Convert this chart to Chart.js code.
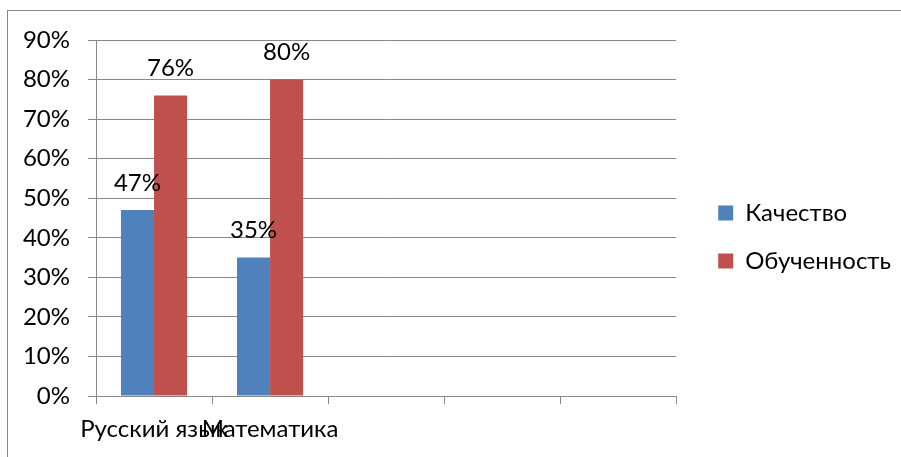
<!DOCTYPE html>
<html>
<head>
<meta charset="utf-8">
<script src="https://cdn.jsdelivr.net/npm/chart.js@4"></script>
<style>
    html, body { margin: 0; padding: 0; background: #fff; }
    #wrap { width: 901px; height: 457px; position: relative; }
</style>
</head>
<body>
<div id="wrap"><canvas id="chart" width="901" height="457"></canvas></div>
<script>
// Chart data
const categories = ['Русский язык', 'Математика', '', '', ''];
const quality = [47, 35, null, null, null];
const learning = [76, 80, null, null, null];
const yTicks = [0, 10, 20, 30, 40, 50, 60, 70, 80, 90];

const FONT = 'Lato';
const FONT_SIZE = 24;
const GRID = '#888888';

// value labels above bars
const valueLabels = {
    id: 'valueLabels',
    afterDatasetsDraw(chart) {
        const ctx = chart.ctx;
        ctx.save();
        ctx.font = FONT_SIZE + 'px ' + FONT;
        ctx.fillStyle = '#000';
        ctx.textAlign = 'center';
        ctx.textBaseline = 'middle';
        chart.data.datasets.forEach((ds, i) => {
            chart.getDatasetMeta(i).data.forEach((bar, j) => {
                const v = ds.data[j];
                if (v == null) return;
                ctx.fillText(v + '%', bar.x, bar.y - 27);
            });
        });
        ctx.restore();
    }
};

// outer frame of the chart object (only top/left edges are visible)
const frame = {
    id: 'frame',
    beforeDraw(chart) {
        const ctx = chart.ctx;
        ctx.save();
        ctx.fillStyle = '#fff';
        ctx.fillRect(0, 0, chart.width, chart.height);
        ctx.strokeStyle = GRID;
        ctx.lineWidth = 1;
        ctx.strokeRect(7.5, 10.5, 1200, 1200);
        ctx.restore();
    }
};

// empty axis used only as spacing
const spacer = (position, size) => ({
    type: 'linear',
    position: position,
    display: true,
    grid: { display: false },
    border: { display: false },
    ticks: { display: false },
    afterFit: scale => {
        if (position === 'top') scale.height = size;
        else scale.width = size;
    }
});

new Chart(document.getElementById('chart'), {
    type: 'bar',
    data: {
        labels: categories,
        datasets: [
            { label: 'Качество', data: quality, backgroundColor: '#4F81BD', yAxisID: 'y' },
            { label: 'Обученность', data: learning, backgroundColor: '#C0504D', yAxisID: 'y' }
        ]
    },
    options: {
        responsive: false,
        animation: false,
        layout: { padding: { top: 17, left: 0, right: 0, bottom: 0 } },
        datasets: {
            bar: { categoryPercentage: 0.57, barPercentage: 1 }
        },
        plugins: {
            legend: {
                position: 'right',
                maxWidth: 300,
                labels: {
                    boxWidth: 15,
                    boxHeight: 15,
                    padding: 24,
                    color: '#000',
                    font: { family: FONT, size: FONT_SIZE }
                }
            },
            tooltip: { enabled: false }
        },
        scales: {
            x: {
                grid: { drawOnChartArea: false, drawTicks: true, tickLength: 8, color: GRID },
                border: { color: GRID },
                ticks: {
                    autoSkip: false,
                    maxRotation: 0,
                    minRotation: 0,
                    padding: 11,
                    color: '#000',
                    font: { family: FONT, size: FONT_SIZE }
                },
                afterFit: scale => { scale.height = 61; }
            },
            y: {
                min: 0,
                max: 90,
                afterBuildTicks: scale => { scale.ticks = yTicks.map(v => ({ value: v })); },
                grid: { color: GRID, tickLength: 8 },
                border: { color: GRID },
                ticks: {
                    padding: 18,
                    color: '#000',
                    font: { family: FONT, size: FONT_SIZE },
                    callback: v => v + '%'
                },
                afterFit: scale => { scale.width = 96; }
            },
            gapTop: spacer('top', 23),
            gapRight: spacer('right', 18)
        }
    },
    plugins: [frame, valueLabels]
});
</script>
</body>
</html>
